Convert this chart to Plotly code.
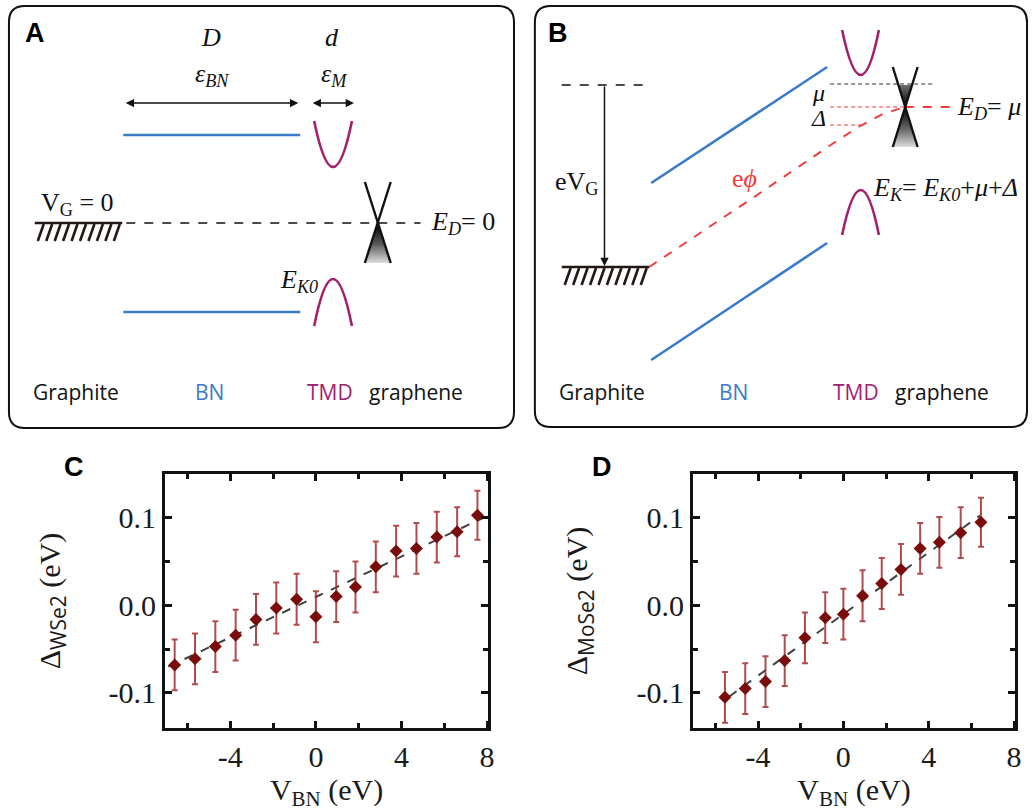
import plotly.graph_objects as go

# ---------------- data: panel C (WSe2) ----------------
c_x = [-6.6, -5.65, -4.7, -3.75, -2.8, -1.85, -0.9, 0.0, 0.95, 1.85, 2.8, 3.75, 4.7, 5.65, 6.6, 7.55]
c_y = [-0.068, -0.061, -0.047, -0.034, -0.016, -0.003, 0.007, -0.013, 0.010, 0.021, 0.044, 0.062, 0.065, 0.078, 0.084, 0.103]
c_err = [0.029, 0.029, 0.029, 0.029, 0.029, 0.029, 0.029, 0.029, 0.029, 0.029, 0.029, 0.029, 0.029, 0.029, 0.028, 0.028]
c_fit_x = [-6.9, 8.0]
c_fit_y = [-0.070, 0.102]

# ---------------- data: panel D (MoSe2) ----------------
d_x = [-5.55, -4.6, -3.65, -2.75, -1.8, -0.85, 0.0, 0.9, 1.8, 2.7, 3.6, 4.5, 5.5, 6.45]
d_y = [-0.105, -0.095, -0.087, -0.063, -0.037, -0.014, -0.010, 0.011, 0.025, 0.041, 0.065, 0.072, 0.083, 0.095]
d_err = [0.029, 0.029, 0.029, 0.029, 0.029, 0.029, 0.029, 0.029, 0.029, 0.029, 0.029, 0.029, 0.029, 0.028]
d_fit_x = [-5.35, 6.4]
d_fit_y = [-0.104, 0.1025]

x_tick_vals = [-4, 0, 4, 8]
x_tick_text = ["-4", "0", "4", "8"]
x_minor_vals = [-6, -2, 2, 6]
y_tick_vals = [-0.1, 0.0, 0.1]
y_tick_text = ["-0.1", "0.0", "0.1"]
y_minor_vals = [-0.05, 0.05]

# ---------------- schematic geometry (figure pixel space) ----------------
box_a = [9, 6, 517, 428]
box_b = [538, 6, 1033, 427]

a_bn_top_x = [124, 302]; a_bn_top_y = [135, 135]
a_bn_bot_x = [124, 302]; a_bn_bot_y = [312, 312]
a_dash_x = [127, 423]; a_dash_y = [223, 223]
a_ground_x = [35, 123]; a_ground_y = [223, 223]
a_hatch_top_x = [44, 52.5, 61, 69.5, 78, 86.5, 95, 103.5, 112, 120.5]
a_cone_l_x = [367, 393]; a_cone_l_y = [182, 263]
a_cone_r_x = [393, 367]; a_cone_r_y = [182, 263]
a_cone_fill_x = [380, 393, 367, 380]; a_cone_fill_y = [223, 263, 263, 223]
a_cb = [316, 121, 335, 167, 354, 121]   # x0,y0, vertex x,y, x1,y1
a_vb = [316, 326, 335, 279, 354, 326]

b_bn_top_x = [655, 832]; b_bn_top_y = [183, 67]
b_bn_bot_x = [655, 832]; b_bn_bot_y = [360, 243]
b_ground_x = [565, 653]; b_ground_y = [267, 267]
b_hatch_top_x = [574, 582.5, 591, 599.5, 608, 616.5, 625, 633.5, 642, 650.5]
b_topdash_x = [565, 653]; b_topdash_y = [85, 85]
b_mu_x = [835, 938]; b_mu_y = [84, 84]
b_red_curve_x = [653, 760, 840, 865, 888, 910]
b_red_curve_y = [267, 196, 142, 126, 114, 107]
b_red_h1_x = [835, 910]; b_red_h1_y = [107, 107]
b_red_h2_x = [910, 962]; b_red_h2_y = [107, 107]
b_red_h3_x = [835, 866]; b_red_h3_y = [125, 125]
b_cone_l_x = [898, 923]; b_cone_l_y = [67, 147]
b_cone_r_x = [923, 898]; b_cone_r_y = [67, 147]
b_cone_fill_x = [903.6, 917.4, 910, 923, 898, 910, 903.6]
b_cone_fill_y = [85, 85, 107, 147, 147, 107, 85]
b_cb = [847, 30, 866, 75, 884, 30]
b_vb = [847, 235, 866, 190, 884, 235]

BLUE = "#3C7BC8"
MAG = "#A3206F"
RED = "#F23A3A"
DARKRED = "#7B0C0C"
ERRRED = "rgba(165,45,45,0.85)"

SERIF = "Liberation Serif"
SANS = "Open Sans"

fig = go.Figure()

# ---- panel C ----
fig.add_trace(go.Scatter(x=c_fit_x, y=c_fit_y, mode="lines", xaxis="x", yaxis="y",
                         line=dict(color="#404040", width=2, dash="dash"), showlegend=False))
fig.add_trace(go.Scatter(x=c_x, y=c_y, mode="markers", xaxis="x", yaxis="y",
                         marker=dict(symbol="diamond", size=10, color=DARKRED),
                         error_y=dict(type="data", array=c_err, visible=True, color=ERRRED,
                                      thickness=2, width=3),
                         showlegend=False))
# ---- panel D ----
fig.add_trace(go.Scatter(x=d_fit_x, y=d_fit_y, mode="lines", xaxis="x2", yaxis="y2",
                         line=dict(color="#404040", width=2, dash="dash"), showlegend=False))
fig.add_trace(go.Scatter(x=d_x, y=d_y, mode="markers", xaxis="x2", yaxis="y2",
                         marker=dict(symbol="diamond", size=10, color=DARKRED),
                         error_y=dict(type="data", array=d_err, visible=True, color=ERRRED,
                                      thickness=2, width=3),
                         showlegend=False))


def seg(x, y, color, width, dash="solid"):
    fig.add_trace(go.Scatter(x=x, y=y, mode="lines", xaxis="x3", yaxis="y3",
                             line=dict(color=color, width=width, dash=dash),
                             hoverinfo="skip", showlegend=False))


def hatches(tops, y0, length, slant):
    xs, ys = [], []
    for t in tops:
        xs += [t, t - slant, None]
        ys += [y0, y0 + length, None]
    fig.add_trace(go.Scatter(x=xs, y=ys, mode="lines", xaxis="x3", yaxis="y3",
                             line=dict(color="#231815", width=2.6),
                             hoverinfo="skip", showlegend=False))


def cone_fill(x, y, start, stop, scale):
    fig.add_trace(go.Scatter(x=x, y=y, mode="lines", xaxis="x3", yaxis="y3", fill="toself",
                             fillgradient=dict(type="vertical", colorscale=scale, start=start, stop=stop),
                             line=dict(width=0), hoverinfo="skip", showlegend=False))


# ---- panel A schematic ----
cone_fill(a_cone_fill_x, a_cone_fill_y, 223, 265,
          [[0, "rgb(0,0,0)"], [0.5, "rgb(90,90,90)"], [1, "rgb(235,235,235)"]])
seg(a_bn_top_x, a_bn_top_y, BLUE, 2.6)
seg(a_bn_bot_x, a_bn_bot_y, BLUE, 2.6)
seg(a_dash_x, a_dash_y, "#111", 1.6, "dash")
seg(a_ground_x, a_ground_y, "#231815", 2.6)
hatches(a_hatch_top_x, 224, 17, 6)
seg(a_cone_l_x, a_cone_l_y, "#111", 2.4)
seg(a_cone_r_x, a_cone_r_y, "#111", 2.4)

# ---- panel B schematic ----
cone_fill(b_cone_fill_x, b_cone_fill_y, 85, 150,
          [[0, "rgb(110,110,110)"], [0.34, "rgb(0,0,0)"], [0.7, "rgb(110,110,110)"], [1, "rgb(240,240,240)"]])
seg(b_bn_top_x, b_bn_top_y, BLUE, 2.6)
seg(b_bn_bot_x, b_bn_bot_y, BLUE, 2.6)
seg(b_ground_x, b_ground_y, "#231815", 2.6)
hatches(b_hatch_top_x, 268, 17, 6)
seg(b_topdash_x, b_topdash_y, "#111", 1.6, "dash")
seg(b_mu_x, b_mu_y, "#333", 1.1, "4px,3px")
seg(b_red_h1_x, b_red_h1_y, RED, 1.1, "4px,3px")
seg(b_red_h3_x, b_red_h3_y, RED, 1.1, "4px,3px")
seg(b_red_h2_x, b_red_h2_y, RED, 2, "dash")
seg(b_red_curve_x, b_red_curve_y, RED, 2, "dash")
seg(b_cone_l_x, b_cone_l_y, "#111", 2.4)
seg(b_cone_r_x, b_cone_r_y, "#111", 2.4)

shapes = []


def rounded_box(b, r=16):
    x0, y0, x1, y1 = b
    p = (f"M {x0 + r},{y0} L {x1 - r},{y0} Q {x1},{y0} {x1},{y0 + r} "
         f"L {x1},{y1 - r} Q {x1},{y1} {x1 - r},{y1} L {x0 + r},{y1} "
         f"Q {x0},{y1} {x0},{y1 - r} L {x0},{y0 + r} Q {x0},{y0} {x0 + r},{y0} Z")
    shapes.append(dict(type="path", path=p, xref="x3", yref="y3",
                       line=dict(color="#111", width=2)))


def parabola(p):
    x0, y0, xv, yv, x1, y1 = p
    cy = 2 * yv - y0
    shapes.append(dict(type="path", path=f"M {x0},{y0} Q {xv},{cy} {x1},{y1}",
                       xref="x3", yref="y3", line=dict(color=MAG, width=2.6)))


rounded_box(box_a)
rounded_box(box_b)
for p in (a_cb, a_vb, b_cb, b_vb):
    parabola(p)

ann = []


def txt(x, y, t, size=24, family=SERIF, color="#111", bold=False, xanchor="center"):
    if bold:
        t = f"<b>{t}</b>"
    ann.append(dict(x=x, y=y, xref="x3", yref="y3", text=t, showarrow=False,
                    xanchor=xanchor, yanchor="middle",
                    font=dict(size=size, family=family, color=color)))


def arrow(x0, y0, x1, y1, both=False):
    ann.append(dict(x=x1, y=y1, ax=x0, ay=y0, xref="x3", yref="y3", axref="x3", ayref="y3",
                    text="", showarrow=True, arrowhead=2, arrowsize=1.1, arrowwidth=1.5,
                    arrowcolor="#111", arrowside="end+start" if both else "end",
                    startarrowhead=2, startarrowsize=1.1, standoff=0, startstandoff=0))


# panel letters
txt(35, 33, "A", 27, "Liberation Sans", "#000", True)
txt(561, 33, "B", 27, "Liberation Sans", "#000", True)
txt(74, 467, "C", 27, "Liberation Sans", "#000", True)
txt(606, 467, "D", 27, "Liberation Sans", "#000", True)

# panel A texts
txt(212, 37, "<i>D</i>", 26)
txt(334, 37, "<i>d</i>", 26)
txt(213, 75, "<i>ε</i><sub><i>BN</i></sub>", 26)
txt(336, 75, "<i>ε</i><sub><i>M</i></sub>", 26)
arrow(125, 103, 300, 103, both=True)
arrow(313, 103, 356, 103, both=True)
txt(78, 204, "V<sub>G</sub> = 0", 26)
txt(466, 223, "<i>E</i><sub><i>D</i></sub>= 0", 26)
txt(301, 281, "<i>E</i><sub><i>K0</i></sub>", 26)
txt(76, 392, "Graphite", 21, SANS, "#111")
txt(211, 392, "BN", 21, SANS, BLUE)
txt(332, 392, "TMD", 21, SANS, MAG)
txt(418, 392, "graphene", 21, SANS, "#111")

# panel B texts
arrow(608, 85, 608, 266)
txt(580, 183, "eV<sub>G</sub>", 26)
txt(749, 178, "e<i>ϕ</i>", 26, SERIF, RED)
txt(823, 93, "<i>μ</i>", 24)
txt(823, 118, "<i>Δ</i>", 24)
txt(995, 108, "<i>E</i><sub><i>D</i></sub>= <i>μ</i>", 26)
txt(951, 189, "<i>E</i><sub><i>K</i></sub>= <i>E</i><sub><i>K0</i></sub>+<i>μ</i>+<i>Δ</i>", 26)
txt(605, 392, "Graphite", 21, SANS, "#111")
txt(738, 392, "BN", 21, SANS, BLUE)
txt(861, 392, "TMD", 21, SANS, MAG)
txt(947, 392, "graphene", 21, SANS, "#111")

W, H = 1036, 811
tickfont = dict(family=SERIF, size=30, color="#1a1a1a")
titlefont = dict(family=SERIF, size=30, color="#1a1a1a")


def xax(dom):
    return dict(domain=dom, range=[-7.05, 8.05], showline=True, linewidth=3, linecolor="#111",
                mirror="allticks", ticks="inside", ticklen=7, tickwidth=2.5, tickcolor="#111",
                tickmode="array", tickvals=x_tick_vals, ticktext=x_tick_text, tickfont=tickfont,
                minor=dict(tickmode="array", tickvals=x_minor_vals, ticks="inside", ticklen=5,
                           tickwidth=2.5, tickcolor="#111"),
                showgrid=False, zeroline=False, fixedrange=True,
                title=dict(text="V<sub>BN</sub> (eV)", font=titlefont, standoff=0))


def yax(dom, anchor, title):
    return dict(domain=dom, range=[-0.14, 0.15], anchor=anchor, showline=True, linewidth=3,
                linecolor="#111", mirror="allticks", ticks="inside", ticklen=7, tickwidth=2.5,
                tickcolor="#111", tickmode="array", tickvals=y_tick_vals, ticktext=y_tick_text,
                tickfont=tickfont,
                minor=dict(tickmode="array", tickvals=y_minor_vals, ticks="inside", ticklen=5,
                           tickwidth=2.5, tickcolor="#111"),
                showgrid=False, zeroline=False, fixedrange=True,
                title=dict(text=title, font=titlefont, standoff=40))


ydom = [1 - 728 / H, 1 - 474 / H]
layout = dict(
    width=W, height=H, margin=dict(l=0, r=0, t=0, b=0),
    paper_bgcolor="white", plot_bgcolor="rgba(0,0,0,0)", showlegend=False,
    xaxis=dict(xax([166 / W, 491 / W]), anchor="y"),
    yaxis=yax(ydom, "x",
              "Δ<sub><span style='font-family:Open Sans'>WSe2</span></sub> (eV)"),
    xaxis2=dict(xax([697 / W, 1021 / W]), anchor="y2"),
    yaxis2=yax(ydom, "x2",
               "Δ<sub><span style='font-family:Open Sans'>MoSe2</span></sub> (eV)"),
    xaxis3=dict(domain=[0, 1], range=[0, W], visible=False, anchor="y3", fixedrange=True),
    yaxis3=dict(domain=[0, 1], range=[H, 0], visible=False, anchor="x3", fixedrange=True),
    shapes=shapes, annotations=ann,
)
fig.update_layout(**layout)
fig.write_html("out.html", config={"displayModeBar": False},
               post_script="document.body.style.margin='0';document.body.style.overflow='hidden';")
